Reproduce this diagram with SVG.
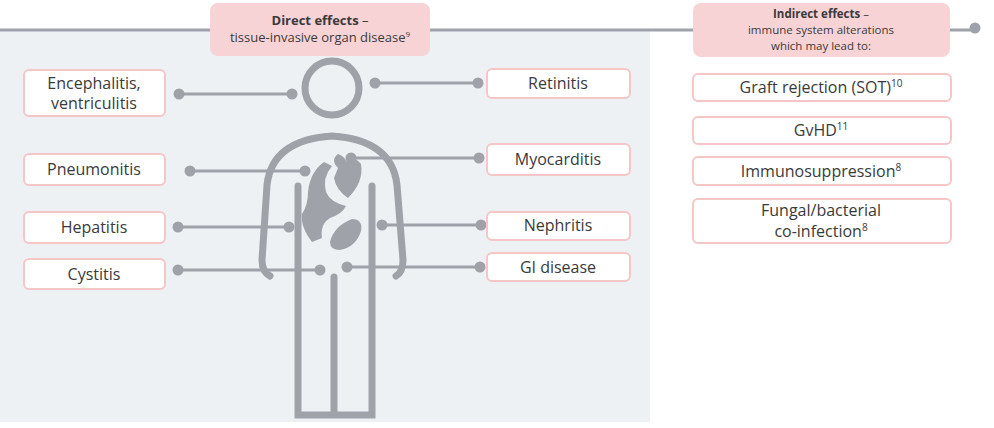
<svg xmlns="http://www.w3.org/2000/svg" width="994" height="428" viewBox="0 0 994 428">
<style>
text{font-family:"Open Sans","Liberation Sans",sans-serif;fill:#3a3a3a;text-anchor:middle}
.lbl{font-size:16px}
.hd{font-size:13px}
.hs{font-size:11.5px}
.box{fill:#fff;stroke:#f5c6c8;stroke-width:2}
.pk{fill:#f8d3d5}
.ln{stroke:#9fa2a9;stroke-width:3;fill:none}
.dot{fill:#9fa2a9}
.fig{stroke:#9fa2a9;stroke-width:7;fill:none;stroke-linecap:round}
.org{fill:#9fa2a9}
</style>
<rect x="0" y="30" width="650" height="392" fill="#edf1f4"/>
<g id="connectors">
<line class="ln" x1="0" y1="30" x2="975" y2="30" stroke-width="3"/>
<circle class="dot" cx="975" cy="28" r="5.5"/>
<line class="ln" x1="179" y1="94" x2="292" y2="94"/><circle class="dot" cx="179" cy="94" r="5.5"/><circle class="dot" cx="292" cy="94" r="5.5"/>
<line class="ln" x1="375" y1="83" x2="478" y2="83"/><circle class="dot" cx="375" cy="83" r="5.5"/><circle class="dot" cx="478" cy="83" r="5.5"/>
<line class="ln" x1="190" y1="171" x2="305" y2="171"/><circle class="dot" cx="190" cy="171" r="5.5"/><circle class="dot" cx="305" cy="171" r="5.5"/>
<line class="ln" x1="351" y1="158" x2="479" y2="158"/><circle class="dot" cx="351" cy="158" r="5.5"/><circle class="dot" cx="479" cy="158" r="5.5"/>
<line class="ln" x1="178" y1="227" x2="289" y2="227"/><circle class="dot" cx="178" cy="227" r="5.5"/><circle class="dot" cx="289" cy="227" r="5.5"/>
<line class="ln" x1="382" y1="225" x2="481" y2="225"/><circle class="dot" cx="382" cy="225" r="5.5"/><circle class="dot" cx="481" cy="225" r="5.5"/>
<line class="ln" x1="178" y1="270" x2="320" y2="270"/><circle class="dot" cx="178" cy="270" r="5.5"/><circle class="dot" cx="320" cy="270" r="5.5"/>
<line class="ln" x1="347" y1="267" x2="480" y2="267"/><circle class="dot" cx="347" cy="267" r="5.5"/><circle class="dot" cx="480" cy="267" r="5.5"/>
</g>
<g id="figure">
<circle class="fig" cx="332" cy="88" r="27"/>
<path class="fig" d="M270 276 Q262 272 262 260 L267 185 Q272 140 332 136 Q392 140 397 185 L403 260 Q403 272 396 276"/>
<path class="fig" d="M298 186 V415 H372 V186" stroke-linecap="butt" stroke-linejoin="miter"/>
<line class="fig" x1="334" y1="277" x2="334" y2="413" stroke-linecap="butt"/>
<path class="org" d="M324 162 Q310 172 308 192 Q308 205 302 214 Q300 226 312 242 L322 238 Q320 224 330 218 Q342 214 346 206 Q330 202 326 192 Q322 178 332 166 Z"/>
<path class="org" d="M338 168 Q330 160 338 154 Q344 156 347 162 Q354 155 361 164 Q364 182 348 198 Q336 190 334 178 Z"/>
<path class="org" d="M330 242 Q334 226 352 219 Q363 219 361 231 Q356 247 340 250 Q330 250 330 242 Z"/>
</g>
<g id="direct"><rect class="pk" x="210" y="3" width="220" height="53" rx="8"/>
<text class="hd" x="320" y="25" font-weight="bold">Direct effects <tspan font-weight="normal">–</tspan></text>
<text class="hd" x="320" y="42">tissue-invasive organ disease<tspan font-size="8" dy="-5">9</tspan></text></g>
<g id="indirect"><rect class="pk" x="693" y="3" width="257" height="54" rx="8"/>
<text class="hs" x="821" y="18" font-weight="bold">Indirect effects <tspan font-weight="normal">–</tspan></text>
<text class="hs" x="821" y="34">immune system alterations</text>
<text class="hs" x="821" y="50">which may lead to:</text></g>
<g id="enc"><rect class="box" x="24" y="70" width="141" height="46" rx="5"/><text class="lbl" x="94" y="89">Encephalitis,</text><text class="lbl" x="94" y="109">ventriculitis</text></g>
<g id="pne"><rect class="box" x="24" y="154" width="141" height="31" rx="5"/><text class="lbl" x="94" y="175">Pneumonitis</text></g>
<g id="hep"><rect class="box" x="24" y="212" width="141" height="31" rx="5"/><text class="lbl" x="94" y="233">Hepatitis</text></g>
<g id="cys"><rect class="box" x="24" y="259" width="141" height="30" rx="5"/><text class="lbl" x="94" y="280">Cystitis</text></g>
<g id="ret"><rect class="box" x="487" y="69" width="143" height="29" rx="5"/><text class="lbl" x="558" y="89">Retinitis</text></g>
<g id="myo"><rect class="box" x="487" y="144" width="143" height="31" rx="5"/><text class="lbl" x="558" y="165">Myocarditis</text></g>
<g id="nep"><rect class="box" x="487" y="212" width="143" height="28" rx="5"/><text class="lbl" x="558" y="231">Nephritis</text></g>
<g id="gi"><rect class="box" x="487" y="253" width="143" height="28" rx="5"/><text class="lbl" x="558" y="273">GI disease</text></g>
<g id="graft"><rect class="box" x="693" y="74" width="258" height="27" rx="5"/><text class="lbl" x="821" y="93">Graft rejection (SOT)<tspan font-size="10" dy="-6">10</tspan></text></g>
<g id="gvhd"><rect class="box" x="693" y="117" width="258" height="27" rx="5"/><text class="lbl" x="821" y="136">GvHD<tspan font-size="10" dy="-6">11</tspan></text></g>
<g id="imm"><rect class="box" x="693" y="157" width="258" height="28" rx="5"/><text class="lbl" x="821" y="177">Immunosuppression<tspan font-size="10" dy="-6">8</tspan></text></g>
<g id="fung"><rect class="box" x="693" y="199" width="258" height="44" rx="5"/><text class="lbl" x="821" y="216">Fungal/bacterial</text><text class="lbl" x="821" y="237">co-infection<tspan font-size="10" dy="-6">8</tspan></text></g>
</svg>
